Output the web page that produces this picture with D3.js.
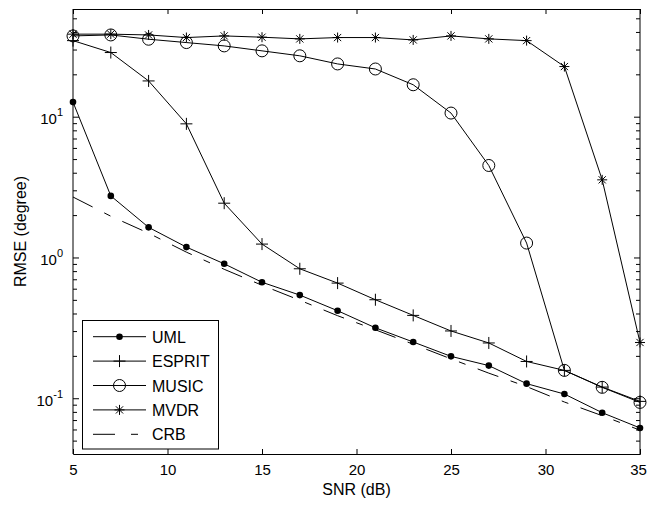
<!DOCTYPE html>
<html>
<head>
<meta charset="utf-8">
<script src="https://cdn.jsdelivr.net/npm/d3@7"></script>
<style>
    body { margin: 0; background: #fff; }
    text { font-family: "Liberation Sans", Arial, sans-serif; fill: #000; }
    .axis path, .axis line { stroke: #000; stroke-width: 1; }
    .series { fill: none; stroke: #000; stroke-width: 1; }
</style>
</head>
<body>
<script>
(function () {

    //SNR values in dB
    var snr = [5, 7, 9, 11, 13, 15, 17, 19, 21, 23, 25, 27, 29, 31, 33, 35];

    //RMSE (degree) of each estimator
    var uml = [12.8, 2.76, 1.65, 1.195, 0.909, 0.672, 0.545, 0.422, 0.319, 0.253, 0.200, 0.172, 0.128, 0.108, 0.0796, 0.062];
    var esprit = [35.0, 28.8, 18.1, 8.97, 2.45, 1.255, 0.838, 0.663, 0.505, 0.391, 0.303, 0.249, 0.184, 0.159, 0.121, 0.0958];
    var music = [37.8, 38.4, 35.8, 33.9, 32.1, 29.6, 27.3, 23.9, 22.0, 17.0, 10.7, 4.54, 1.276, 0.159, 0.1205, 0.0942];
    var mvdr = [38.9, 38.9, 38.4, 36.8, 37.8, 37.0, 36.0, 36.8, 36.8, 35.4, 37.8, 36.0, 35.0, 22.9, 3.59, 0.251];
    var crb = [2.71, 1.98, 1.50, 1.10, 0.831, 0.640, 0.501, 0.389, 0.309, 0.244, 0.192, 0.152, 0.122, 0.0948, 0.0758, 0.0598];

    var seriesNames = ["UML", "ESPRIT", "MUSIC", "MVDR", "CRB"];
    var seriesMarkers = ["dot", "plus", "circle", "star", "none"];
    var xTicks = [5, 10, 15, 20, 25, 30, 35];

    window.onload = setChart();

    function setChart() {
        var width = 647,
            height = 505;
        var margin = { left: 73, right: 7, top: 9, bottom: 51 };

        var svg = d3.select("body")
            .append("svg")
            .attr("width", width)
            .attr("height", height);

        var x = d3.scaleLinear()
            .domain([5, 35])
            .range([margin.left, width - margin.right]);

        var y = d3.scaleLog()
            .domain([0.0405, 58.7])
            .range([height - margin.bottom, margin.top]);

        drawAxes(svg, x, y);

        var allSeries = [uml, esprit, music, mvdr, crb];

        var line = d3.line()
            .x(function (d) { return x(d[0]); })
            .y(function (d) { return y(d[1]); });

        allSeries.forEach(function (vals, k) {
            var pts = snr.map(function (s, i) { return [s, vals[i]]; });
            var path = svg.append("path")
                .datum(pts)
                .attr("class", "series")
                .attr("d", line);
            if (seriesMarkers[k] == "none") {
                path.attr("stroke-dasharray", "22,13,7,13");
            }
            pts.forEach(function (p) {
                drawMarker(svg, seriesMarkers[k], x(p[0]), y(p[1]));
            });
        });

        drawLegend(svg);
    };

    function drawAxes(svg, x, y) {
        var x0 = x.range()[0], x1 = x.range()[1];
        var y0 = y.range()[0], y1 = y.range()[1];

        //frame with inward ticks on all sides
        svg.append("g")
            .attr("class", "axis")
            .attr("transform", "translate(0," + y0 + ")")
            .call(d3.axisBottom(x).tickValues(xTicks).tickSize(-5).tickPadding(10).tickFormat(d3.format("d")))
            .call(function (g) {
                g.selectAll("text").style("font-size", "15px");
                //keep the last label inside the window
                g.selectAll(".tick:last-of-type text").attr("dx", -2);
            });

        svg.append("g")
            .attr("class", "axis")
            .attr("transform", "translate(0," + y1 + ")")
            .call(d3.axisTop(x).tickValues(xTicks).tickSize(-5).tickFormat(""));

        var majors = [0.1, 1, 10];
        var minors = y.ticks().filter(function (v) {
            return majors.indexOf(v) < 0;
        });

        [["left", x0, 1], ["right", x1, -1]].forEach(function (side) {
            var g = svg.append("g").attr("class", "axis");
            g.append("line")
                .attr("x1", side[1]).attr("x2", side[1])
                .attr("y1", y0).attr("y2", y1);
            g.selectAll(".major")
                .data(majors)
                .enter()
                .append("line")
                .attr("x1", side[1])
                .attr("x2", side[1] + side[2] * 6)
                .attr("y1", function (d) { return y(d); })
                .attr("y2", function (d) { return y(d); });
            g.selectAll(".minor")
                .data(minors)
                .enter()
                .append("line")
                .attr("x1", side[1])
                .attr("x2", side[1] + side[2] * 4)
                .attr("y1", function (d) { return y(d); })
                .attr("y2", function (d) { return y(d); });
        });

        //power of ten labels
        var labels = svg.selectAll(".ylab")
            .data(majors)
            .enter()
            .append("text")
            .attr("class", "ylab")
            .attr("text-anchor", "end")
            .attr("x", x0 - 10)
            .attr("y", function (d) { return y(d) + 7; })
            .style("font-size", "15px");
        labels.append("tspan").text("10");
        labels.append("tspan")
            .attr("dy", -8)
            .style("font-size", "11px")
            .text(function (d) { return Math.round(Math.log10(d)); });

        svg.append("text")
            .attr("text-anchor", "middle")
            .attr("x", (x0 + x1) / 2)
            .attr("y", 495)
            .style("font-size", "16px")
            .text("SNR (dB)");

        svg.append("text")
            .attr("text-anchor", "middle")
            .attr("transform", "translate(26," + (y0 + y1) / 2 + ") rotate(-90)")
            .style("font-size", "16px")
            .text("RMSE (degree)");
    };

    function drawMarker(g, kind, cx, cy) {
        if (kind == "dot") {
            g.append("circle").attr("cx", cx).attr("cy", cy).attr("r", 3.3).style("fill", "#000");
        } else if (kind == "circle") {
            g.append("circle").attr("cx", cx).attr("cy", cy).attr("r", 6)
                .style("fill", "none").style("stroke", "#000");
        } else if (kind == "plus") {
            g.append("path")
                .attr("d", "M" + (cx - 6) + "," + cy + "H" + (cx + 6) + "M" + cx + "," + (cy - 6) + "V" + (cy + 6))
                .style("stroke", "#000").style("fill", "none");
        } else if (kind == "star") {
            var r = 5, d = 3.6;
            g.append("path")
                .attr("d", "M" + (cx - r) + "," + cy + "H" + (cx + r) +
                    "M" + cx + "," + (cy - r) + "V" + (cy + r) +
                    "M" + (cx - d) + "," + (cy - d) + "L" + (cx + d) + "," + (cy + d) +
                    "M" + (cx - d) + "," + (cy + d) + "L" + (cx + d) + "," + (cy - d))
                .style("stroke", "#000").style("fill", "none");
        }
    };

    function drawLegend(svg) {
        var legend = svg.append("g");
        legend.append("rect")
            .attr("x", 82.5).attr("y", 320.5)
            .attr("width", 136).attr("height", 128.5)
            .style("fill", "#fff").style("stroke", "#000");

        seriesNames.forEach(function (name, k) {
            var ly = 336.7 + k * 24.4;
            var l = legend.append("line")
                .attr("x1", 93).attr("x2", 146)
                .attr("y1", ly).attr("y2", ly)
                .style("stroke", "#000");
            if (seriesMarkers[k] == "none") {
                l.attr("stroke-dasharray", "22,16,7,16");
            }
            drawMarker(legend, seriesMarkers[k], 119.5, ly);
            legend.append("text")
                .attr("x", 152)
                .attr("y", ly + 6)
                .style("font-size", "16px")
                .text(name);
        });
    };
})();
</script>
</body>
</html>
